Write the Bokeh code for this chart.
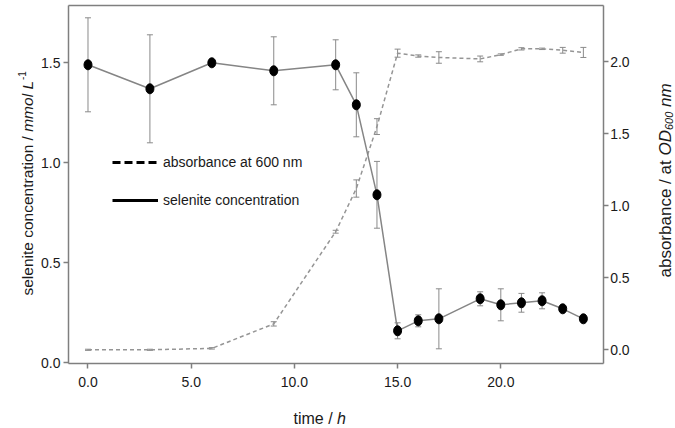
import math
from bokeh.plotting import figure
from bokeh.models import (ColumnDataSource, Whisker, TeeHead, LinearAxis, Range1d,
                          FixedTicker, PrintfTickFormatter, Legend, LegendItem, Label)
from bokeh.embed import file_html
from bokeh.resources import INLINE

# ---------------- data ----------------
time_h = [0, 3, 6, 9, 12, 13, 14, 15, 16, 17, 19, 20, 21, 22, 23, 24]
selenite = [1.49, 1.37, 1.50, 1.46, 1.49, 1.29, 0.84, 0.16, 0.21, 0.22, 0.32, 0.29, 0.30, 0.31, 0.27, 0.22]
selenite_err = [0.235, 0.27, 0.012, 0.17, 0.125, 0.16, 0.167, 0.04, 0.03, 0.15, 0.035, 0.08, 0.047, 0.04, 0.01, 0.01]
absorbance = [0.0, 0.0, 0.01, 0.18, 0.82, 1.12, 1.55, 2.06, 2.04, 2.03, 2.02, 2.05, 2.09, 2.09, 2.08, 2.065]
absorbance_err = [0.004, 0.004, 0.005, 0.015, 0.01, 0.06, 0.055, 0.028, 0.008, 0.04, 0.02, 0.005, 0.008, 0.005, 0.02, 0.035]

x_ticks = [0, 5, 10, 15, 20]
left_ticks = [0.0, 0.5, 1.0, 1.5]
right_ticks = [0.0, 0.5, 1.0, 1.5, 2.0]

legend_labels = ["absorbance at 600 nm", "selenite concentration"]

# plot box (data units)
X_LO, X_HI = -0.945, 24.96
Y_LO, Y_HI = -0.0035, 1.789
OD_LO, OD_HI = -0.0951, 2.3944

FONT = "Liberation Sans"
GRAY = "#7f7f7f"
TXT = "#1a1a1a"

# Arial / Liberation Sans advance widths (per 1000 em)
W = {' ': 278, '/': 278, '-': 333, 'L': 556, 'O': 778, 'D': 722,
     'a': 556, 'b': 556, 'c': 500, 'd': 556, 'e': 556, 'h': 556, 'i': 222,
     'l': 222, 'm': 833, 'n': 556, 'o': 556, 'r': 333, 's': 500, 't': 278}
for d in "0123456789":
    W[d] = 556

def tw(s, size):
    return sum(W.get(ch, 556) for ch in s) * size / 1000.0

se_src = ColumnDataSource(dict(
    t=time_h, v=selenite,
    lo=[v - e for v, e in zip(selenite, selenite_err)],
    hi=[v + e for v, e in zip(selenite, selenite_err)]))
ab_src = ColumnDataSource(dict(
    t=time_h, v=absorbance,
    lo=[v - e for v, e in zip(absorbance, absorbance_err)],
    hi=[v + e for v, e in zip(absorbance, absorbance_err)]))

W_FIG, H_FIG = 675, 428

p = figure(width=W_FIG, height=H_FIG, output_backend="svg", toolbar_location=None,
           x_range=Range1d(-4.239, 28.464), y_range=Range1d(-0.3285, 1.8115),
           min_border=0, min_border_left=0, min_border_right=0,
           min_border_top=0, min_border_bottom=0)
p.extra_y_ranges = {"od": Range1d(-0.5465, 2.4257)}
p.xgrid.visible = False
p.ygrid.visible = False
p.outline_line_color = None
p.background_fill_color = "white"
p.border_fill_color = "white"

bottom_axis = p.xaxis[0]
left_axis = p.yaxis[0]
right_axis = LinearAxis(y_range_name="od")
p.add_layout(right_axis, "right")
top_axis = LinearAxis(ticker=FixedTicker(ticks=[]))
p.add_layout(top_axis, "above")

bottom_axis.fixed_location = Y_LO
bottom_axis.bounds = (X_LO, X_HI)
top_axis.fixed_location = Y_HI
top_axis.bounds = (X_LO, X_HI)
left_axis.fixed_location = X_LO
left_axis.bounds = (Y_LO, Y_HI)
right_axis.fixed_location = X_HI
right_axis.bounds = (OD_LO, OD_HI)

for ax, ticks in ((bottom_axis, x_ticks), (left_axis, left_ticks), (right_axis, right_ticks),
                  (top_axis, [])):
    ax.ticker = FixedTicker(ticks=ticks)
    ax.formatter = PrintfTickFormatter(format="%.1f")
    ax.axis_line_color = GRAY
    ax.axis_line_width = 1.5
    ax.major_tick_line_color = GRAY
    ax.major_tick_line_width = 1.5
    ax.major_tick_out = 5
    ax.major_tick_in = 0
    ax.minor_tick_line_color = None
    ax.major_label_text_font = FONT
    ax.major_label_text_font_size = "14px"
    ax.major_label_text_color = TXT
bottom_axis.major_label_standoff = 8
left_axis.major_label_standoff = 3
right_axis.major_label_standoff = 2

# error bars
EB = "#8a8a8a"
p.add_layout(Whisker(source=ab_src, base="t", lower="lo", upper="hi", y_range_name="od",
                     line_color=EB, line_width=1,
                     upper_head=TeeHead(size=6, line_color=EB, line_width=1),
                     lower_head=TeeHead(size=6, line_color=EB, line_width=1)))
p.add_layout(Whisker(source=se_src, base="t", lower="lo", upper="hi",
                     line_color=EB, line_width=1,
                     upper_head=TeeHead(size=6, line_color=EB, line_width=1),
                     lower_head=TeeHead(size=6, line_color=EB, line_width=1)))

# absorbance (dashed, right axis)
p.line("t", "v", source=ab_src, y_range_name="od", line_color="#959595",
       line_width=1.5, line_dash="4 3")
# selenite (solid, left axis)
p.line("t", "v", source=se_src, line_color="#858585", line_width=1.5)
p.ellipse("t", "v", source=se_src, width=8, height=10, width_units="screen",
          height_units="screen", fill_color="black", line_color="black")

# legend (style-only, hidden renderers)
leg_ab = p.line("t", "v", source=ab_src, y_range_name="od", line_color="black",
                line_width=3, line_dash="8 4", visible=False)
leg_se = p.line("t", "v", source=se_src, line_color="black", line_width=3, visible=False)
legend = Legend(items=[LegendItem(label=legend_labels[0], renderers=[leg_ab]),
                       LegendItem(label=legend_labels[1], renderers=[leg_se])],
                location=(112, 218), glyph_width=46, glyph_height=20, label_height=20,
                label_standoff=5, spacing=18, padding=0, margin=0,
                background_fill_alpha=0, border_line_alpha=0, inactive_fill_alpha=0,
                label_text_font=FONT, label_text_font_size="14px", label_text_color=TXT)
p.add_layout(legend)

# axis titles composed from pieces (screen units, from bottom-left of canvas)
def lab(text, x, y, size, style="normal", angle=0.0):
    p.add_layout(Label(x=x, y=y, x_units="screen", y_units="screen", text=text,
                       angle=angle, text_font=FONT, text_font_size=f"{size}px",
                       text_font_style=style, text_color=TXT,
                       text_align="left", text_baseline="alphabetic"))

A = math.pi / 2
# left title
s1, s2 = "selenite concentration / ", "mmol L"
xb, y0 = 27, 133
lab(s1, xb, y0, 15.5, angle=A)
y1 = y0 + tw(s1, 15.5)
lab(s2, xb, y1, 15.5, "italic", angle=A)
y2 = y1 + tw(s2, 15.5) + 1
lab("-1", xb - 6, y2, 10, angle=A)

# right title
r1, r2, r3, r4 = "absorbance / at ", "OD", "600", "nm"
xb, y0 = 665, 151
lab(r1, xb, y0, 17, angle=A)
y1 = y0 + tw(r1, 17)
lab(r2, xb, y1, 17, "italic", angle=A)
y2 = y1 + tw(r2, 17)
lab(r3, xb + 3, y2, 11, "italic", angle=A)
y3 = y2 + tw(r3, 11) + tw(" ", 17)
lab(r4, xb, y3, 17, "italic", angle=A)

# x title
x1 = "time / "
lab(x1, 293, 10, 16)
lab("h", 293 + tw(x1, 16), 10, 16, "italic")

open("out.html", "w").write(file_html(p, INLINE))
